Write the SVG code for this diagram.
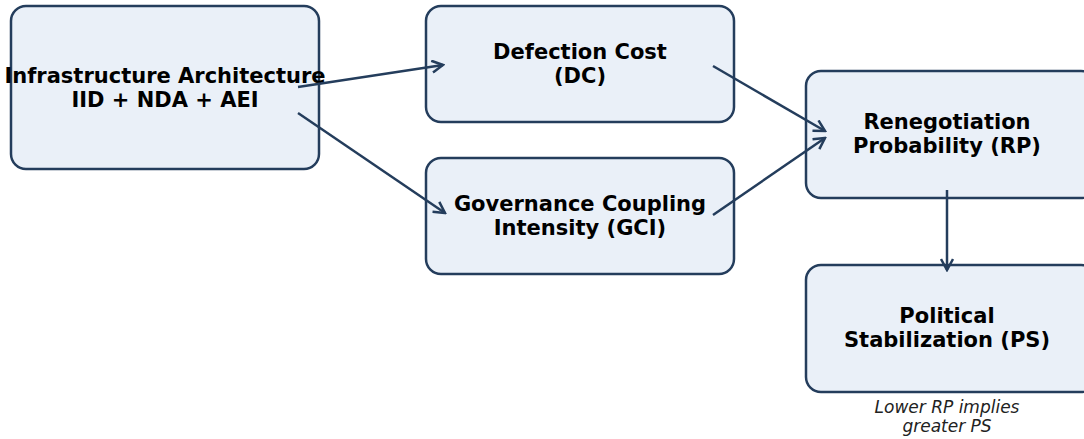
<svg xmlns="http://www.w3.org/2000/svg" width="1084" height="439" viewBox="0 0 1084 439">
<defs>
<style>
.box{fill:#eaf0f8;stroke:#243d5c;stroke-width:2.5}
.lbl{font-family:"DejaVu Sans",sans-serif;font-weight:bold;font-size:21px;fill:#000;text-anchor:middle}
.cap{font-family:"DejaVu Sans",sans-serif;font-style:italic;font-size:17px;fill:#222;text-anchor:middle}
.conn{stroke:#243d5c;stroke-width:2.5;fill:none;marker-end:url(#ah)}
</style>
<marker id="ah" viewBox="0 0 14 14" refX="12" refY="7" markerWidth="14" markerHeight="14" markerUnits="userSpaceOnUse" orient="auto">
<path d="M1,1 L12,7 L1,13" fill="none" stroke="#243d5c" stroke-width="2.5"/>
</marker>
</defs>
<rect width="1084" height="439" fill="#fff"/>
<g id="node-ia">
<rect class="box" x="11" y="6" width="308" height="163" rx="15"/>
<text class="lbl" x="165" y="83">Infrastructure Architecture</text>
<text class="lbl" x="165" y="107">IID + NDA + AEI</text>
</g>
<g id="node-dc">
<rect class="box" x="426" y="6" width="308" height="116" rx="15"/>
<text class="lbl" x="580" y="59">Defection Cost</text>
<text class="lbl" x="580" y="83">(DC)</text>
</g>
<g id="node-gci">
<rect class="box" x="426" y="158" width="308" height="116" rx="15"/>
<text class="lbl" x="580" y="211">Governance Coupling</text>
<text class="lbl" x="580" y="235">Intensity (GCI)</text>
</g>
<g id="node-rp">
<rect class="box" x="806" y="71" width="290" height="127" rx="15"/>
<text class="lbl" x="947" y="129">Renegotiation</text>
<text class="lbl" x="947" y="153">Probability (RP)</text>
</g>
<g id="node-ps">
<rect class="box" x="806" y="265" width="290" height="127" rx="15"/>
<text class="lbl" x="947" y="323">Political</text>
<text class="lbl" x="947" y="347">Stabilization (PS)</text>
</g>
<g id="caption">
<text class="cap" x="947" y="413">Lower RP implies</text>
<text class="cap" x="947" y="432">greater PS</text>
</g>
<g id="connectors">
<line class="conn" x1="298" y1="87" x2="443" y2="65"/>
<line class="conn" x1="298" y1="113" x2="445" y2="213"/>
<line class="conn" x1="713" y1="66" x2="825" y2="131"/>
<line class="conn" x1="713" y1="215" x2="825" y2="138"/>
<line class="conn" x1="947" y1="190" x2="947" y2="270"/>
</g>
</svg>
